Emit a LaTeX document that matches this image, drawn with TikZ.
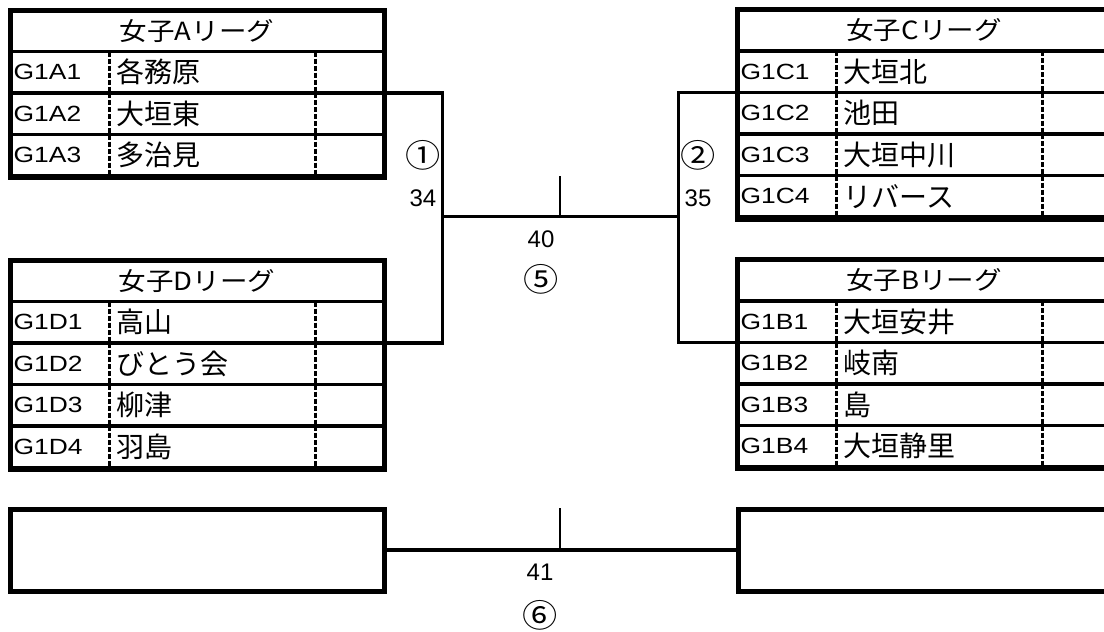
\documentclass[tikz,border=0pt]{standalone}
\usepackage{fontspec}
\setmainfont{Liberation Sans}
\newfontfamily\codefont[FakeStretch=1.2]{Liberation Sans}
\newfontfamily\cjk{Noto Sans CJK JP}
\newfontfamily\cjkwide[FakeStretch=1.1]{Noto Sans CJK JP}

\begin{document}
\begin{tikzpicture}[x=1pt, y=-1pt,
    frame/.style={draw, line width=5pt, minimum width=374pt, inner sep=0pt, outer sep=0pt},
    rowcell/.style={draw, line width=3.4pt, minimum width=374pt, minimum height=41.5pt, inner sep=0pt, outer sep=0pt},
    headcell/.style={minimum width=374pt, minimum height=41.5pt, inner sep=0pt, outer sep=0pt, font=\cjkwide\fontsize{25}{25}\selectfont},
    dashline/.style={line width=2.4pt, dash pattern=on 5pt off 2pt},
    code/.style={anchor=west, inner sep=0pt, font=\codefont\fontsize{22}{22}\selectfont},
    team/.style={anchor=west, inner sep=0pt, font=\cjk\fontsize{28}{28}\selectfont},
    num/.style={inner sep=0pt, font=\fontsize{24}{24}\selectfont},
    circnum/.style={inner sep=0pt, font=\cjkwide\fontsize{32}{32}\selectfont},
    link/.style={line width=3.3pt},
    tickline/.style={line width=2.7pt}]
    \clip (0,0) rectangle (1104,632);

    \foreach \lg/\lx/\ly/\lh/\ttl/\teams in {
        A/10/10/167.5/{女子Aリーグ}/{G1A1/各務原,G1A2/大垣東,G1A3/多治見},
        C/737/9.5/209.5/{女子Cリーグ}/{G1C1/大垣北,G1C2/池田,G1C3/大垣中川,G1C4/リバース},
        D/10/260/209/{女子Dリーグ}/{G1D1/高山,G1D2/びとう会,G1D3/柳津,G1D4/羽島},
        B/737/259.5/208.5/{女子Bリーグ}/{G1B1/大垣安井,G1B2/岐南,G1B3/島,G1B4/大垣静里}} {
        \node (head\lg) [headcell, anchor=north west] at (\lx,\ly) {\ttl};
        \foreach \code/\team [count=\i] in \teams {
            \node (\lg\i) [rowcell, anchor=north west] at (\lx, {\ly+41.5*\i}) {};
            \draw[dashline] ([xshift=99.5pt]\lg\i.north west) -- ([xshift=99.5pt]\lg\i.south west);
            \draw[dashline] ([xshift=305.5pt]\lg\i.north west) -- ([xshift=305.5pt]\lg\i.south west);
            \node (code\lg\i) [code] at ([xshift=3.5pt]\lg\i.west) {\code};
            \node (team\lg\i) [team] at ([xshift=106.5pt]\lg\i.west) {\team};
        }
        \node (box\lg) [frame, minimum height=\lh pt, anchor=north west] at (\lx,\ly) {};
    }

    \node (winL) [frame, minimum height=82pt, anchor=north west] at (10,509) {};
    \node (winR) [frame, minimum height=82pt, anchor=north west] at (738,509) {};

    \coordinate (j1) at (442.5,216.7);
    \coordinate (j2) at (678.3,216.7);
    \coordinate (m1) at (560,216.7);
    \coordinate (t1) at (560,176);
    \coordinate (m2) at (560,550);
    \coordinate (t2) at (560,508);

    \draw[link] (A1.south east) -| (j1) |- (D1.south east);
    \draw[link] (C1.south west) -| (j2) |- (B1.south west);
    \draw[link] (j1) -- (j2);
    \draw[tickline] (m1) -- (t1);
    \draw[link] (winL.east) -- (winR.west);
    \draw[tickline] (m2) -- (t2);

    \node (mark1) [circnum] at (423,155.5) {①};
    \node (game34) [num] at (423,198.5) {34};
    \node (mark2) [circnum] at (698,155.5) {②};
    \node (game35) [num] at (698,198.5) {35};
    \node (game40) [num] at (541,239) {40};
    \node (mark5) [circnum] at (541,279.5) {⑤};
    \node (game41) [num] at (540,572) {41};
    \node (mark6) [circnum] at (540,615) {⑥};
\end{tikzpicture}
\end{document}
